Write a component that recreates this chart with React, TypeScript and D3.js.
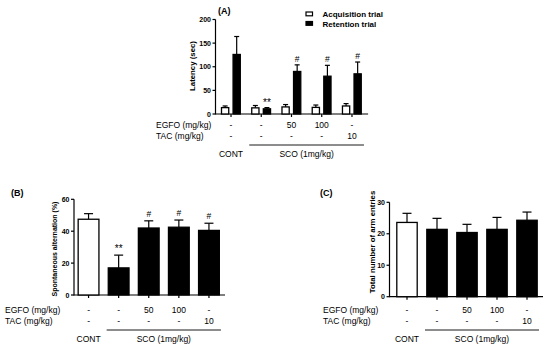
import React, { useEffect, useRef } from 'react';
import * as d3 from 'd3';

const groups = ['CONT', 'SCO', 'SCO+EGFO50', 'SCO+EGFO100', 'SCO+TAC10'];
const egfoRow = ['-', '-', '50', '100', '-'];
const tacRow = ['-', '-', '-', '-', '10'];

const acqMean = [13.5, 13, 15, 14, 17];
const acqSem = [3.5, 5, 5, 5, 5];
const retMean = [126, 11, 90, 80, 85];
const retSem = [38, 2.5, 14, 23, 25];
const latencyMarks = ['', '**', '#', '#', '#'];

const altMean = [47.5, 17, 42, 42.5, 40.5];
const altSem = [3.5, 8, 4.5, 4.5, 4.5];
const altMarks = ['', '**', '#', '#', '#'];

const armMean = [23.6, 21.4, 20.4, 21.4, 24.3];
const armSem = [2.9, 3.5, 2.6, 3.8, 2.6];

const latencyTicks = [0, 50, 100, 150, 200];
const altTicks = [0, 20, 40, 60];
const armTicks = [0, 10, 20, 30];

const FONT = 'Liberation Sans, Arial, sans-serif';

type Sel = d3.Selection<SVGGElement, unknown, null, undefined>;

interface PanelCfg {
  title: string;
  titleX: number;
  titleY: number;
  axisX: number;
  bandRange: [number, number];
  yRange: [number, number];
  yMax: number;
  ticks: number[];
  ylabel: string;
  ylabelX: number;
  ylabelY: number;
  ylabelSize: number;
  rowX: number;
  rowY: [number, number, number, number];
}

function txt(g: Sel, x: number, y: number, s: string | number, size: number, anchor = 'start', bold = false) {
  return g.append('text').attr('x', x).attr('y', y).attr('text-anchor', anchor)
    .attr('font-size', size).attr('font-weight', bold ? 'bold' : 'normal').attr('fill', '#000').text(s);
}

function frame(g: Sel, cfg: PanelCfg) {
  const x = d3.scaleBand<string>().domain(groups).range(cfg.bandRange).padding(0);
  const y = d3.scaleLinear().domain([0, cfg.yMax]).range(cfg.yRange);
  const [y0, y1] = cfg.yRange;

  // title
  txt(g, cfg.titleX, cfg.titleY, cfg.title, 9, 'start', true);

  // y axis
  g.append('line').attr('x1', cfg.axisX).attr('x2', cfg.axisX).attr('y1', y0 + 0.5).attr('y2', y1)
    .attr('stroke', '#000').attr('stroke-width', 1.2);
  cfg.ticks.forEach(t => {
    g.append('line').attr('x1', cfg.axisX - 3).attr('x2', cfg.axisX).attr('y1', y(t)).attr('y2', y(t))
      .attr('stroke', '#000').attr('stroke-width', 1.2);
    txt(g, cfg.axisX - 4.5, y(t) + 2.5, t, 7, 'end', true);
  });
  g.append('text')
    .attr('transform', `translate(${cfg.ylabelX},${cfg.ylabelY}) rotate(-90)`)
    .attr('text-anchor', 'middle').attr('font-size', cfg.ylabelSize).attr('font-weight', 'bold')
    .attr('fill', '#000').text(cfg.ylabel);

  // x axis
  g.append('line').attr('x1', cfg.axisX).attr('x2', cfg.bandRange[1] + 1).attr('y1', y0).attr('y2', y0)
    .attr('stroke', '#000').attr('stroke-width', 1.2);
  groups.forEach(gr => {
    const cx = x(gr)! + x.bandwidth() / 2;
    g.append('line').attr('x1', cx).attr('x2', cx).attr('y1', y0).attr('y2', y0 + 3)
      .attr('stroke', '#000').attr('stroke-width', 1.2);
  });

  // dose rows
  const [rEgfo, rTac, rLine, rName] = cfg.rowY;
  txt(g, cfg.rowX, rEgfo, 'EGFO (mg/kg)', 8.5);
  txt(g, cfg.rowX, rTac, 'TAC (mg/kg)', 8.5);
  groups.forEach((gr, i) => {
    const cx = x(gr)! + x.bandwidth() / 2;
    txt(g, cx, rEgfo, egfoRow[i], 8.5, 'middle');
    txt(g, cx, rTac, tacRow[i], 8.5, 'middle');
  });
  const c0 = x(groups[0])! + x.bandwidth() / 2;
  const c1 = x(groups[1])! + x.bandwidth() / 2;
  const c4 = x(groups[4])! + x.bandwidth() / 2;
  g.append('line').attr('x1', c1 - 12).attr('x2', c4 + 12).attr('y1', rLine).attr('y2', rLine)
    .attr('stroke', '#000').attr('stroke-width', 0.9);
  txt(g, c0, rName, 'CONT', 8.5, 'middle');
  txt(g, (c1 + c4) / 2, rName, 'SCO (1mg/kg)', 8.5, 'middle');

  return { x, y };
}

function barWithError(g: Sel, x0: number, w: number, y: d3.ScaleLinear<number, number>, mean: number, sem: number, fill: string, cap: number) {
  const cx = x0 + w / 2;
  g.append('line').attr('x1', cx).attr('x2', cx).attr('y1', y(mean)).attr('y2', y(mean + sem))
    .attr('stroke', '#000').attr('stroke-width', 1.2);
  g.append('line').attr('x1', cx - cap / 2).attr('x2', cx + cap / 2).attr('y1', y(mean + sem)).attr('y2', y(mean + sem))
    .attr('stroke', '#000').attr('stroke-width', 1.2);
  g.append('rect').attr('x', x0).attr('y', y(mean)).attr('width', w).attr('height', y(0) - y(mean))
    .attr('fill', fill).attr('stroke', '#000').attr('stroke-width', 1.3);
}

export default function App() {
  const svgRef = useRef<SVGSVGElement>(null);

  useEffect(() => {
    if (!svgRef.current) return;
    const svg = d3.select(svgRef.current);
    svg.selectAll('*').remove();
    const root = svg.append('g').attr('font-family', FONT) as Sel;

    // (A) latency
    const gA = root.append('g') as Sel;
    const a = frame(gA, {
      title: '(A)', titleX: 218, titleY: 14,
      axisX: 215.5, bandRange: [215.9, 367.1], yRange: [114, 19.5], yMax: 200, ticks: latencyTicks,
      ylabel: 'Latency (sec)', ylabelX: 195, ylabelY: 66, ylabelSize: 7.8,
      rowX: 156, rowY: [127.7, 138.5, 145, 156.5],
    });
    const inner = d3.scaleBand<string>().domain(['acq', 'ret']).range([5.6, 24.4]).paddingInner(0.375);
    groups.forEach((gr, i) => {
      const bx = a.x(gr)!;
      barWithError(gA, bx + inner('acq')!, inner.bandwidth(), a.y, acqMean[i], acqSem[i], '#fff', 5);
      barWithError(gA, bx + inner('ret')!, inner.bandwidth(), a.y, retMean[i], retSem[i], '#000', 5);
      if (latencyMarks[i]) {
        const star = latencyMarks[i] === '**';
        txt(gA, bx + inner('ret')! + inner.bandwidth() / 2, a.y(retMean[i] + retSem[i]) - (star ? 2 : 3),
          latencyMarks[i], star ? 10 : 8.5, 'middle');
      }
    });
    // legend
    const legend = [{ label: 'Acquisition trial', fill: '#fff' }, { label: 'Retention trial', fill: '#000' }];
    legend.forEach((l, i) => {
      gA.append('rect').attr('x', 306).attr('y', 12 + i * 9.5).attr('width', 6.5).attr('height', 3.8)
        .attr('fill', l.fill).attr('stroke', '#000').attr('stroke-width', 1.2);
      txt(gA, 322.5, 17 + i * 9.5, l.label, 8, 'start', true);
    });

    // (B) spontaneous alternation
    const gB = root.append('g') as Sel;
    const b = frame(gB, {
      title: '(B)', titleX: 11, titleY: 196,
      axisX: 74, bandRange: [73.5, 224], yRange: [295, 199.3], yMax: 60, ticks: altTicks,
      ylabel: 'Spontaneous alternation (%)', ylabelX: 57, ylabelY: 249, ylabelSize: 7,
      rowX: 5, rowY: [312.7, 324.3, 330, 341.7],
    });
    groups.forEach((gr, i) => {
      const bw = b.x.bandwidth() * 0.69;
      const bx = b.x(gr)! + (b.x.bandwidth() - bw) / 2;
      barWithError(gB, bx, bw, b.y, altMean[i], altSem[i], i === 0 ? '#fff' : '#000', 9);
      if (altMarks[i]) {
        const star = altMarks[i] === '**';
        txt(gB, bx + bw / 2, b.y(altMean[i] + altSem[i]) - (star ? 3 : 4), altMarks[i], star ? 10 : 8.5, 'middle');
      }
    });

    // (C) total arm entries
    const gC = root.append('g') as Sel;
    const c = frame(gC, {
      title: '(C)', titleX: 320, titleY: 196,
      axisX: 389.5, bandRange: [392, 542], yRange: [296.7, 202.3], yMax: 30, ticks: armTicks,
      ylabel: 'Total number of arm entries', ylabelX: 374.5, ylabelY: 242, ylabelSize: 7.8,
      rowX: 323, rowY: [312.7, 324.3, 330, 341.7],
    });
    groups.forEach((gr, i) => {
      const bw = c.x.bandwidth() * 0.68;
      const bx = c.x(gr)! + (c.x.bandwidth() - bw) / 2;
      barWithError(gC, bx, bw, c.y, armMean[i], armSem[i], i === 0 ? '#fff' : '#000', 9);
    });
  }, []);

  return (
    <svg ref={svgRef} width={550} height={347}
      style={{ position: 'absolute', left: 0, top: 0, background: '#fff' }} />
  );
}
